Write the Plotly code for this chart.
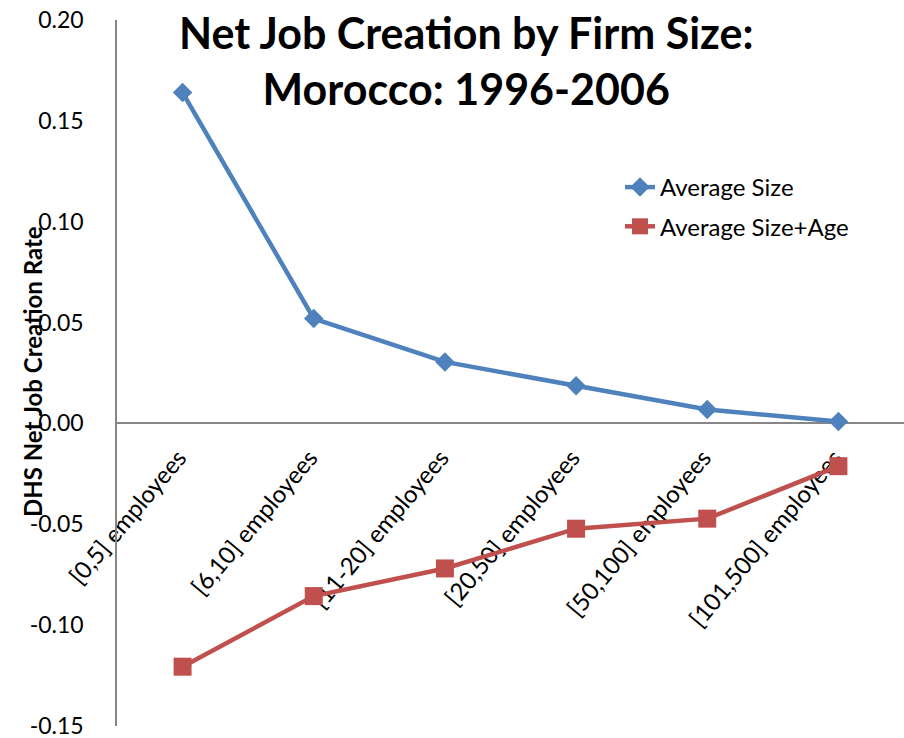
import plotly.graph_objects as go

categories = ["[0,5] employees", "[6,10] employees", "[11-20] employees",
              "[20,50] employees", "[50,100] employees", "[101,500] employees"]
avg_size = [0.164, 0.052, 0.0305, 0.0187, 0.0069, 0.001]
avg_size_age = [-0.1206, -0.0856, -0.0719, -0.0522, -0.0472, -0.0212]
y_ticks = [-0.15, -0.10, -0.05, 0.00, 0.05, 0.10, 0.15, 0.20]

FONT = "Lato"
BLUE = "#4F81BD"
RED = "#C0504D"
AXIS = "#868686"

L, T, B = 117, 20, 12
W, H = 904, 738
PW, PH = W - L, H - T - B

fig = go.Figure()
fig.add_trace(go.Scatter(
    x=list(range(len(categories))), y=avg_size, name="Average Size",
    mode="lines+markers", legendgroup="a",
    line=dict(color=BLUE, width=4.5),
    marker=dict(symbol="diamond", size=15, color=BLUE),
))
fig.add_trace(go.Scatter(
    x=list(range(len(categories))), y=avg_size_age, name="Average Size+Age",
    mode="lines+markers", legendgroup="b",
    line=dict(color=RED, width=4.5),
    marker=dict(symbol="square", size=18, color=RED),
))

ymin, ymax = -0.15, 0.20
fig.update_layout(
    width=W, height=H,
    margin=dict(l=L, r=0, t=T, b=B, autoexpand=False),
    plot_bgcolor="white", paper_bgcolor="white",
    font=dict(family=FONT, size=23, color="black"),
    xaxis=dict(
        tickmode="array", tickvals=list(range(len(categories))), ticktext=categories,
        range=[-0.5, len(categories) - 0.5],
        anchor="free", position=(0 - ymin) / (ymax - ymin),
        showline=True, linecolor=AXIS, linewidth=1.5,
        showgrid=False, zeroline=False, ticks="",
        tickangle=-50, layer="below traces",
        ticklabelstandoff=10, ticklabelshift=-4,
        automargin=False,
        tickfont=dict(family=FONT, size=24),
    ),
    yaxis=dict(
        range=[ymin, ymax], tickmode="array", tickvals=y_ticks,
        ticktext=[f"{v:.2f}" for v in y_ticks],
        showline=True, linecolor=AXIS, linewidth=1.5,
        showgrid=False, zeroline=False, ticks="",
        ticklabelstandoff=27, ticklabeloverflow="allow",
        automargin=False,
        tickfont=dict(family=FONT, size=23),
    ),
    legend=dict(
        x=(620 - L) / PW, y=1 - (165 - T) / PH, xanchor="left", yanchor="top",
        bgcolor="rgba(0,0,0,0)", font=dict(family=FONT, size=24),
        tracegroupgap=5, traceorder="grouped",
    ),
    annotations=[
        dict(
            text="<b>Net Job Creation by Firm Size:<br>Morocco: 1996-2006</b>",
            xref="paper", yref="paper",
            x=(466 - L) / PW, y=1 + (T - 61) / PH,
            xanchor="center", yanchor="middle", showarrow=False,
            font=dict(family=FONT, size=43, color="black"),
        ),
        dict(
            text="<b>DHS Net Job Creation Rate</b>", textangle=-90,
            xref="paper", yref="paper", x=(33 - L) / PW, y=1 - (372 - T) / PH,
            xanchor="center", yanchor="middle", showarrow=False,
            font=dict(family=FONT, size=24, color="black"),
        ),
    ],
)

fig.write_html("out.html", config={"displayModeBar": False},
               post_script="document.body.style.margin='0';")
